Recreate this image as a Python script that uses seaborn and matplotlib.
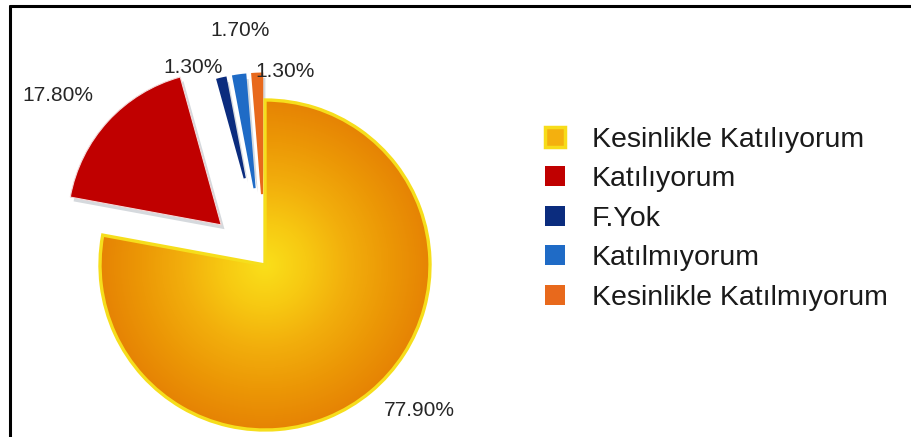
import numpy as np
import matplotlib
matplotlib.use("Agg")
import matplotlib.pyplot as plt
from matplotlib.patches import Wedge, Patch
from matplotlib.lines import Line2D
from matplotlib.colors import LinearSegmentedColormap
import seaborn as sns

# survey answers and their shares (%)
categories = ["Kesinlikle Katılıyorum", "Katılıyorum", "F.Yok",
              "Katılmıyorum", "Kesinlikle Katılmıyorum"]
shares = [77.9, 17.8, 1.3, 1.7, 1.3]
share_labels = ["77.90%", "17.80%", "1.30%", "1.70%", "1.30%"]

# styling per slice
colors = ["#EE9A06", "#C00000", "#0B2C7E", "#1F6BC6", "#E8691C"]
explode = [0, 0.36, 0.54, 0.47, 0.43]
radii = [1.0, 0.93, 0.62, 0.69, 0.73]
label_dist = [1.286, 1.265, 0.738, 0.962, 0.753]
label_turn = [7, 4, 12, -2.4, -12.9]

sns.set_theme(style="white")
plt.rcParams["font.family"] = ["Liberation Sans", "DejaVu Sans"]

W, H = 911, 437
fig = plt.figure(figsize=(W / 100, H / 100), dpi=100)
fig.patch.set_facecolor("white")
ax = fig.add_axes([0, 0, 0.6, 1])

wedges, _ = ax.pie(shares, explode=explode, colors=colors, startangle=90,
                   counterclock=False, wedgeprops=dict(linewidth=0))

# pixel scale of a unit radius and the pie centre
R = 165.0
cx, cy = 265.0, H - 265.0

for w, r in zip(wedges, radii):
    w.set_radius(r)

# soft grey drop shadows under the detached slices
for w in wedges[1:]:
    c = np.array(w.center)
    sh = Wedge(tuple(c + np.array([0.02, -0.026])), w.r, w.theta1, w.theta2,
               facecolor="#D5D9DD", edgecolor="none", zorder=0.5)
    ax.add_patch(sh)

# light rim on the red slice, self-coloured rim on the thin ones
wedges[1].set_edgecolor("#F4D9D9")
wedges[1].set_linewidth(0.8)
for w, c in zip(wedges[2:], colors[2:]):
    w.set_edgecolor(c)
    w.set_linewidth(1.6)

# radial glow on the main slice
n = 500
yy, xx = np.mgrid[-1:1:n * 1j, -1:1:n * 1j]
rr = np.clip(np.hypot(xx, yy), 0, 1)
glow = LinearSegmentedColormap.from_list(
    "glow", ["#FADF1A", "#F7C912", "#F2AE0C", "#EC9806", "#E68304"])
im = ax.imshow(rr, cmap=glow, extent=[-1, 1, -1, 1], origin="lower",
               zorder=2, interpolation="bilinear", aspect="auto")
im.set_clip_path(wedges[0])
main = wedges[0]
ax.add_patch(Wedge(main.center, main.r, main.theta1, main.theta2, fill=False,
                   edgecolor="#F6DE1C", linewidth=2.4, zorder=3))

# percentage labels
for w, txt, d, turn in zip(wedges, share_labels, label_dist, label_turn):
    ang = np.deg2rad((w.theta1 + w.theta2) / 2 + turn)
    x = w.center[0] + d * np.cos(ang)
    y = w.center[1] + d * np.sin(ang)
    ax.text(x, y, txt, ha="center", va="center", fontsize=15, color="#262626",
            zorder=5)

ax.set_aspect("auto")
ax.set_xlim(-cx / R, (0.6 * W - cx) / R)
ax.set_ylim(-cy / R, (H - cy) / R)
ax.axis("off")

# legend
handles = [Patch(facecolor="#F4B00E", edgecolor="#F7DC1A", linewidth=2.5)]
handles += [Patch(facecolor=c, edgecolor="none") for c in colors[1:]]
fig.legend(handles, categories, loc="upper left",
           bbox_to_anchor=(545 / W, 1 - 127 / H), frameon=False, fontsize=20.5,
           handlelength=0.7, handleheight=0.7, handletextpad=0.95,
           labelspacing=0.47, borderaxespad=0, borderpad=0,
           labelcolor="#1A1A1A")

# partial frame: top and left rules
fig.add_artist(Line2D([10 / W, 1], [1 - 6 / H, 1 - 6 / H], color="black",
                      linewidth=2.2, transform=fig.transFigure))
fig.add_artist(Line2D([10 / W, 10 / W], [0, 1 - 6 / H], color="black",
                      linewidth=2.2, transform=fig.transFigure))

fig.savefig("out.png", dpi=100, facecolor="white")
